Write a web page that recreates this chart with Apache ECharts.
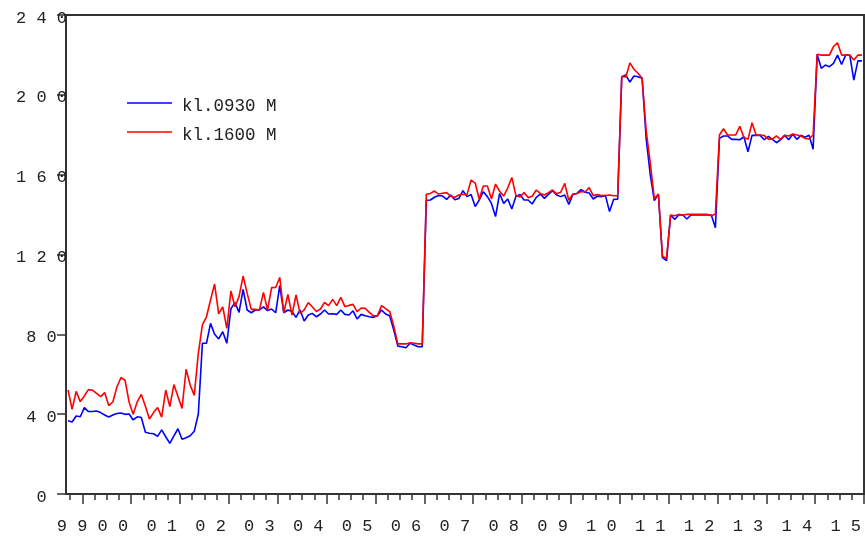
<!DOCTYPE html>
<html><head><meta charset="utf-8">
<script src="https://cdn.jsdelivr.net/npm/echarts@6/dist/echarts.min.js"></script>
<style>html,body{margin:0;padding:0;background:#fff}#c{width:865px;height:538px}</style>
</head><body><div id="c"></div>
<script>
// monthly categories, Sep 1999 .. Dec 2015
const firstMonth = [1999, 9];
const lastMonth = [2015, 12];
const months = [];
for (let y = firstMonth[0]; y <= lastMonth[0]; y++) {
  for (let m = 1; m <= 12; m++) {
    if (y === firstMonth[0] && m < firstMonth[1]) continue;
    months.push(y + '-' + String(m).padStart(2, '0'));
  }
}
// x tick labels and the month at which each label is centred
const xLabelMonths = ['1999-10','2000-08','2001-08','2002-08','2003-08','2004-08','2005-08','2006-08','2007-08','2008-08','2009-08','2010-08','2011-08','2012-08','2013-08','2014-08','2015-08'];
const xTickLabels = ['9 9','0 0','0 1','0 2','0 3','0 4','0 5','0 6','0 7','0 8','0 9','1 0','1 1','1 2','1 3','1 4','1 5'];
const yTickLabels = ['0','4 0','8 0','1 2 0','1 6 0','2 0 0','2 4 0'];

const seriesNames = ['kl.0930 M', 'kl.1600 M'];
const kl0930 = [
36.7,36.1,39.1,38.7,43.3,41.3,41.3,41.6,40.8,39.6,
38.6,39.6,40.3,40.6,39.9,40.1,37.1,38.7,38.3,30.9,
30.4,30.2,28.9,32.1,28.7,25.4,29.1,32.7,27.4,28.2,
29.2,31.4,40.1,75.5,75.5,85.5,80.0,77.7,81.3,75.5,
92.8,95.9,91.0,102.5,92.2,90.8,92.2,92.2,93.8,91.9,
92.7,90.8,104.4,90.8,92.2,91.4,88.5,92.2,86.7,89.7,
90.5,88.8,90.2,92.2,90.2,90.3,90.0,92.2,90.0,89.7,
91.8,87.7,90.0,89.3,88.8,88.5,89.3,92.2,90.2,89.3,
82.2,74.1,73.8,73.3,75.5,74.6,73.8,73.8,147.2,147.3,
148.7,149.6,149.3,147.6,149.8,147.4,148.1,152.0,149.0,150.1,
144.0,147.3,151.5,149.0,145.6,139.0,150.6,145.6,147.8,142.8,
149.0,150.1,147.3,147.3,145.3,148.6,150.3,148.1,150.1,152.0,
149.8,149.0,149.8,145.1,150.1,150.6,152.5,151.2,150.8,147.8,
149.2,149.0,149.5,141.5,147.6,147.7,209.1,209.9,206.4,209.4,
209.1,208.3,178.0,160.0,147.0,150.3,118.4,116.9,139.8,137.6,
139.8,139.8,137.8,139.8,139.8,139.8,139.8,139.8,139.8,133.4,
178.2,179.4,179.4,177.7,177.7,177.5,179.0,171.5,179.7,179.7,
179.7,177.5,179.2,177.7,176.0,177.5,179.7,177.5,180.2,177.7,
179.7,178.8,179.7,172.7,220.2,213.3,214.9,214.1,215.8,219.9,
215.2,219.9,219.9,207.4,217.0,217.0
];
const kl1600 = [
52.1,42.4,51.4,46.3,49.1,52.3,52.0,50.4,48.8,50.8,
44.3,46.1,53.6,58.3,57.0,46.0,40.0,46.2,49.9,44.0,
37.6,40.8,43.3,38.5,52.1,43.8,54.8,48.8,42.9,62.5,
54.6,49.4,70.5,84.7,88.8,97.2,105.2,90.2,93.8,83.0,
101.7,93.8,98.9,109.2,100.5,92.5,92.5,92.2,101.0,92.2,
103.4,103.5,108.5,90.8,100.0,89.7,99.7,90.5,92.2,95.9,
93.8,91.4,92.7,96.0,94.4,97.5,94.4,98.5,93.9,94.5,
95.0,91.4,93.2,93.0,91.0,89.3,89.3,94.4,92.9,91.4,
84.2,75.2,75.2,75.2,75.8,75.5,75.2,75.2,150.2,150.6,
151.8,150.3,150.7,151.0,149.1,148.7,149.8,150.2,150.0,157.3,
155.8,147.7,154.3,154.3,147.8,155.3,151.7,149.3,153.4,158.6,
149.6,148.8,151.0,148.5,149.2,152.3,150.6,149.8,151.0,152.3,
150.4,151.2,155.6,147.2,150.3,150.6,151.6,151.3,153.5,149.5,
150.0,149.5,149.6,149.8,149.4,149.4,209.2,208.9,216.0,212.8,
210.8,208.3,182.0,166.0,148.0,150.2,119.2,118.0,139.8,139.4,
140.1,139.8,140.1,140.1,140.1,140.1,140.1,140.1,139.4,140.3,
179.9,183.0,179.9,179.9,179.9,184.2,178.7,177.7,186.0,179.9,
179.9,179.6,177.8,177.8,179.4,177.7,179.7,179.4,180.4,179.9,
179.4,178.2,177.9,179.9,220.3,219.9,219.9,219.9,224.2,226.1,
219.9,219.9,219.9,217.4,219.9,219.9
];

const FONT = 'Liberation Mono';
const INK = '#222';
const AXIS = '#333';

const chart = echarts.init(document.getElementById('c'), null, {renderer: 'canvas'});
const minorTick = (i, v) => /-(01|04|07|10)$/.test(v);
const majorTick = (i, v) => /-01$/.test(v);

chart.setOption({
  animation: false,
  backgroundColor: '#fff',
  grid: {left: 66, right: 1, top: 15, bottom: 44, show: true, borderColor: AXIS, borderWidth: 2, backgroundColor: 'transparent'},
  legend: {
    orient: 'vertical', left: 127, top: 91, padding: 0, itemGap: 5,
    icon: 'rect', itemWidth: 45, itemHeight: 1.6,
    formatter: (name) => '{t|' + name + '}',
    textStyle: {
      fontFamily: FONT, fontSize: 17.5, color: INK,
      rich: {t: {fontFamily: FONT, fontSize: 17.5, color: INK, lineHeight: 18, padding: [6, 0, 0, 5]}}
    },
    data: seriesNames
  },
  xAxis: [
    {
      type: 'category', data: months, boundaryGap: true, position: 'bottom',
      axisLine: {show: true, lineStyle: {color: AXIS, width: 2}},
      axisTick: {show: true, interval: minorTick, length: 6, lineStyle: {color: AXIS, width: 1.5}},
      axisLabel: {
        show: true, interval: (i, v) => xLabelMonths.indexOf(v) >= 0,
        formatter: (v) => xTickLabels[xLabelMonths.indexOf(v)],
        fontFamily: FONT, fontSize: 17, color: INK, margin: 24
      },
      splitLine: {show: false}
    },
    {
      type: 'category', data: months, boundaryGap: true, position: 'bottom',
      axisLine: {show: false},
      axisTick: {show: true, interval: majorTick, length: 10, lineStyle: {color: AXIS, width: 1.5}},
      axisLabel: {show: false},
      splitLine: {show: false}
    }
  ],
  yAxis: {
    type: 'value', min: 0, max: 240, interval: 40,
    axisLine: {show: true, lineStyle: {color: AXIS, width: 2}},
    axisTick: {show: true, length: 9, lineStyle: {color: AXIS, width: 1.5}},
    axisLabel: {
      formatter: (v) => yTickLabels[Math.round(v / 40)],
      fontFamily: FONT, fontSize: 17, color: INK, align: 'center', margin: 24.5,
      verticalAlign: 'top', lineHeight: 6
    },
    splitLine: {show: false}
  },
  series: [
    {name: seriesNames[0], type: 'line', data: kl0930, xAxisIndex: 0, symbol: 'none', lineStyle: {color: '#0000ff', width: 1.6}, itemStyle: {color: '#0000ff'}},
    {name: seriesNames[1], type: 'line', data: kl1600, xAxisIndex: 0, symbol: 'none', lineStyle: {color: '#ff0000', width: 1.6}, itemStyle: {color: '#ff0000'}}
  ]
});
</script>
</body></html>
